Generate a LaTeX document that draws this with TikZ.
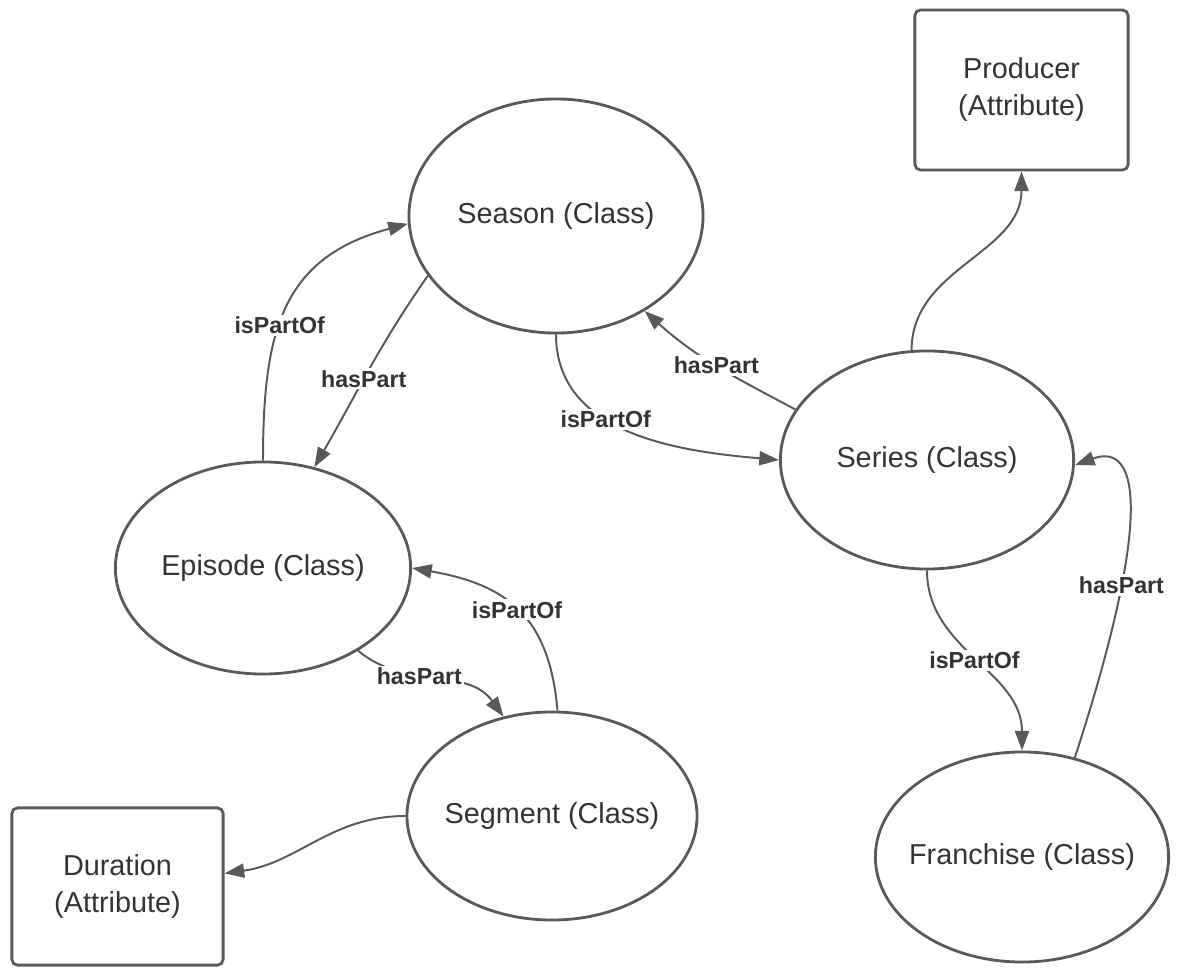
\documentclass[tikz,border=0pt]{standalone}
\usepackage{fontspec}
\setmainfont{Liberation Sans}
\usetikzlibrary{shapes.geometric,arrows.meta}

\definecolor{linegray}{HTML}{595959}
\definecolor{textgray}{HTML}{333333}

\begin{document}
\begin{tikzpicture}[x=0.025cm, y=0.025cm,
    classnode/.style={ellipse, draw=linegray, line width=2pt, inner xsep=-1.5cm, inner ysep=0pt,
        text=textgray, font=\fontsize{20.5}{26}\selectfont},
    attrbox/.style={rectangle, rounded corners=4pt, draw=linegray, line width=2pt,
        inner sep=0pt, align=center, text=textgray, font=\fontsize{20.5}{26.3}\selectfont},
    rel/.style={draw=linegray, line width=1.4pt, -{Triangle[length=14pt,width=10pt]}},
    rellabel/.style={fill=white, inner sep=1.5pt, text=textgray,
        font=\fontsize{16.5}{18}\selectfont\bfseries}]

    \useasboundingbox (0,0) rectangle (1182,967);


    \node[classnode, minimum width=7.35cm, minimum height=5.85cm] (season) at (556,751) {Season (Class)};

    \node[classnode, minimum width=7.33cm, minimum height=5.45cm] (series) at (927,507) {Series (Class)};

    \node[classnode, minimum width=7.38cm, minimum height=5.3cm] (episode) at (263,399) {Episode (Class)};

    \node[classnode, minimum width=7.25cm, minimum height=5.2cm] (segment) at (552,151) {Segment (Class)};

    \node[classnode, minimum width=7.33cm, minimum height=5.25cm] (franchise) at (1022,110) {Franchise (Class)};


    \node[attrbox, minimum width=5.33cm, minimum height=4cm] (producer) at (1021.5,877) {Producer\\(Attribute)};

    \node[attrbox, minimum width=5.28cm, minimum height=3.93cm] (duration) at (117.5,80.5) {Duration\\(Attribute)};


    \draw[rel] (episode.north) to[out=90, in=195, looseness=1.2] node[rellabel, pos=0.42] {isPartOf} (season.183);

    \draw[rel] (season.205) to[out=235, in=60] node[rellabel, pos=0.55] {hasPart} (episode.63);

    \draw[rel] (season.south) to[out=270, in=175] node[rellabel, pos=0.4] {isPartOf} (series.west);

    \draw[rel] (series.159) to[out=152, in=318] node[rellabel] {hasPart} (season.313);

    \draw[rel] (series.98) to[out=90, in=270] (producer.south);

    \draw[rel] (series.south) to[out=270, in=90] node[rellabel] {isPartOf} (franchise.north);

    \draw[rel] (franchise.62) .. controls +(72:250) and +(20:70) .. (series.358) node[rellabel, pos=0.3] {hasPart};

    \draw[rel] (episode.319) to[out=320, in=126] node[rellabel, pos=0.4] {hasPart} (segment.116);

    \draw[rel] (segment.87) to[out=95, in=350, looseness=1.2] node[rellabel] {isPartOf} (episode.east);

    \draw[rel] (segment.west) to[out=180, in=8] (duration.7);

\end{tikzpicture}
\end{document}
